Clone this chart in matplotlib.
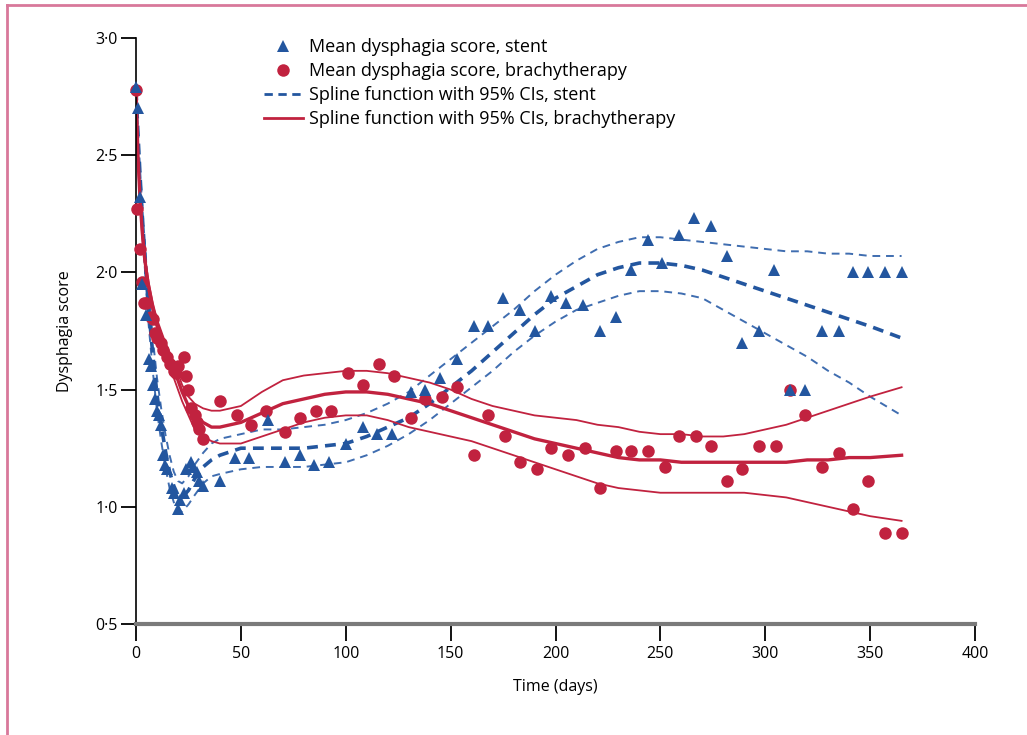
import matplotlib
matplotlib.use("Agg")
import matplotlib.pyplot as plt
from matplotlib.lines import Line2D
import matplotlib.ticker as mticker

plt.rcParams['font.family'] = ['Open Sans', 'DejaVu Sans']

# ---- data ----
stent_days = [0, 0.8, 2, 3, 5, 6, 7, 8, 9, 10, 11, 12, 13, 14, 15, 17, 18, 20, 21, 23, 24, 26, 27, 29, 30, 32,
              40, 47, 54, 63, 71, 78, 85, 92, 100, 108, 115, 122, 131, 138, 145, 153, 161, 168, 175, 183, 190,
              198, 205, 213, 221, 229, 236, 244, 251, 259, 266, 274, 282, 289, 297, 304, 312, 319, 327, 335,
              342, 349, 357, 365]
stent_score = [2.79, 2.70, 2.32, 1.95, 1.82, 1.63, 1.60, 1.52, 1.46, 1.41, 1.39, 1.35, 1.22, 1.18, 1.16, 1.08, 1.06,
               0.99, 1.03, 1.06, 1.16, 1.19, 1.17, 1.15, 1.11, 1.09,
               1.11, 1.21, 1.21, 1.37, 1.19, 1.22, 1.18, 1.19, 1.27, 1.34, 1.31, 1.31, 1.49, 1.50, 1.55, 1.63,
               1.77, 1.77, 1.89, 1.84, 1.75, 1.90, 1.87, 1.86, 1.75, 1.81, 2.01, 2.14, 2.04, 2.16, 2.23, 2.20,
               2.07, 1.70, 1.75, 2.01, 1.50, 1.50, 1.75, 1.75, 2.00, 2.00, 2.00, 2.00]

brachy_days = [0, 0.5, 2, 3, 4, 5, 7, 8, 9, 10, 12, 13, 15, 16, 18, 19, 20, 23, 24, 25, 26, 28, 29, 30, 32,
               40, 48, 55, 62, 71, 78, 86, 93, 101, 108, 116, 123, 131, 138, 146, 153, 161, 168, 176, 183,
               191, 198, 206, 214, 221, 229, 236, 244, 252, 259, 267, 274, 282, 289, 297, 305, 312, 319, 327,
               335, 342, 349, 357, 365]
brachy_score = [2.78, 2.27, 2.10, 1.96, 1.87, 1.87, 1.81, 1.80, 1.74, 1.72, 1.70, 1.67, 1.64, 1.61, 1.58, 1.57,
                1.60, 1.64, 1.56, 1.50, 1.42, 1.39, 1.36, 1.33, 1.29,
                1.45, 1.39, 1.35, 1.41, 1.32, 1.38, 1.41, 1.41, 1.57, 1.52, 1.61, 1.56, 1.38, 1.46, 1.47, 1.51,
                1.22, 1.39, 1.30, 1.19, 1.16, 1.25, 1.22, 1.25, 1.08, 1.24, 1.24, 1.24, 1.17, 1.30, 1.30, 1.26,
                1.11, 1.16, 1.26, 1.26, 1.50, 1.39, 1.17, 1.23, 0.99, 1.11, 0.89, 0.89]

spline_days = [0, 1, 2, 3, 4, 5, 6, 8, 10, 12, 14, 16, 18, 20, 22, 25, 28, 32, 36, 40, 50, 60, 70, 80, 90, 100,
               110, 120, 130, 140, 150, 160, 170, 180, 190, 200, 210, 220, 230, 240, 250, 260, 270, 280, 290,
               300, 310, 320, 330, 340, 350, 365]

stent_fit = [2.78, 2.58, 2.40, 2.24, 2.10, 1.97, 1.85, 1.65, 1.48, 1.35, 1.24, 1.15, 1.09, 1.05, 1.04, 1.07, 1.12,
             1.17, 1.20, 1.22, 1.25, 1.25, 1.25, 1.25, 1.26, 1.27, 1.30, 1.34, 1.38, 1.44, 1.51, 1.58, 1.66, 1.74,
             1.82, 1.89, 1.94, 1.99, 2.02, 2.04, 2.04, 2.03, 2.01, 1.98, 1.95, 1.92, 1.89, 1.86, 1.83, 1.80, 1.77,
             1.72]
stent_upper = [2.78, 2.60, 2.43, 2.28, 2.15, 2.03, 1.92, 1.72, 1.55, 1.42, 1.31, 1.22, 1.15, 1.11, 1.10, 1.13, 1.18,
               1.23, 1.27, 1.29, 1.31, 1.33, 1.33, 1.34, 1.35, 1.37, 1.40, 1.44, 1.49, 1.56, 1.63, 1.70, 1.77, 1.84,
               1.92, 1.99, 2.05, 2.10, 2.13, 2.15, 2.15, 2.14, 2.13, 2.12, 2.11, 2.10, 2.09, 2.09, 2.08, 2.08, 2.07,
               2.07]
stent_lower = [2.78, 2.56, 2.37, 2.20, 2.05, 1.91, 1.78, 1.58, 1.41, 1.28, 1.17, 1.08, 1.02, 0.98, 0.98, 1.01, 1.05,
               1.10, 1.13, 1.14, 1.16, 1.17, 1.17, 1.17, 1.18, 1.19, 1.22, 1.26, 1.31, 1.37, 1.44, 1.51, 1.58, 1.66,
               1.73, 1.79, 1.84, 1.87, 1.90, 1.92, 1.92, 1.91, 1.89, 1.84, 1.79, 1.74, 1.69, 1.64, 1.58, 1.53, 1.47,
               1.39]

brachy_fit = [2.78, 2.48, 2.30, 2.17, 2.07, 2.00, 1.94, 1.85, 1.78, 1.73, 1.68, 1.63, 1.58, 1.54, 1.49, 1.43, 1.39,
              1.36, 1.34, 1.34, 1.36, 1.40, 1.44, 1.46, 1.48, 1.49, 1.49, 1.48, 1.46, 1.44, 1.41, 1.38, 1.35, 1.32,
              1.29, 1.27, 1.25, 1.23, 1.21, 1.20, 1.20, 1.19, 1.19, 1.19, 1.19, 1.19, 1.19, 1.20, 1.20, 1.21, 1.21,
              1.22]
brachy_upper = [2.78, 2.50, 2.32, 2.19, 2.09, 2.02, 1.96, 1.87, 1.80, 1.75, 1.70, 1.66, 1.61, 1.57, 1.52, 1.47, 1.44,
                1.42, 1.41, 1.41, 1.43, 1.49, 1.54, 1.56, 1.57, 1.58, 1.58, 1.57, 1.55, 1.53, 1.50, 1.46, 1.43, 1.41,
                1.39, 1.38, 1.37, 1.35, 1.34, 1.32, 1.31, 1.31, 1.30, 1.30, 1.31, 1.33, 1.35, 1.38, 1.41, 1.44, 1.47,
                1.51]
brachy_lower = [2.78, 2.46, 2.28, 2.15, 2.05, 1.98, 1.92, 1.83, 1.76, 1.71, 1.66, 1.60, 1.55, 1.50, 1.45, 1.39, 1.33,
                1.30, 1.28, 1.27, 1.27, 1.30, 1.33, 1.36, 1.38, 1.39, 1.39, 1.37, 1.34, 1.32, 1.30, 1.28, 1.25, 1.22,
                1.19, 1.16, 1.13, 1.10, 1.08, 1.07, 1.06, 1.06, 1.06, 1.06, 1.06, 1.05, 1.04, 1.02, 1.00, 0.98, 0.96,
                0.94]

x_ticks = [0, 50, 100, 150, 200, 250, 300, 350, 400]
y_ticks = [0.5, 1.0, 1.5, 2.0, 2.5, 3.0]
y_tick_labels = ['0·5', '1·0', '1·5', '2·0', '2·5', '3·0']

legend_labels = ['Mean dysphagia score, stent',
                 'Mean dysphagia score, brachytherapy',
                 'Spline function with 95% CIs, stent',
                 'Spline function with 95% CIs, brachytherapy']

BLUE = '#23569f'
BLUE_CI = '#3f6db0'
RED = '#c1223f'

# ---- figure ----
fig = plt.figure(figsize=(10.27, 7.35), dpi=100)
ax = fig.add_axes([136 / 1027, 111 / 735, 839 / 1027, 586 / 735])

# pink frame
fig.add_artist(Line2D([7 / 1027, 7 / 1027], [0, 1 - 5 / 735], transform=fig.transFigure,
                      color='#d8789a', lw=2))
fig.add_artist(Line2D([7 / 1027, 1], [1 - 5 / 735, 1 - 5 / 735], transform=fig.transFigure,
                      color='#d8789a', lw=2))

# splines
ax.plot(spline_days, stent_upper, color=BLUE_CI, lw=1.4, ls=(0, (4, 3)), zorder=2)
ax.plot(spline_days, stent_lower, color=BLUE_CI, lw=1.4, ls=(0, (4, 3)), zorder=2)
ax.plot(spline_days, stent_fit, color=BLUE, lw=2.6, ls=(0, (3, 2)), zorder=2)
ax.plot(spline_days, brachy_upper, color=RED, lw=1.3, zorder=2)
ax.plot(spline_days, brachy_lower, color=RED, lw=1.3, zorder=2)
ax.plot(spline_days, brachy_fit, color=RED, lw=2.4, zorder=2)

# points
ax.plot(brachy_days, brachy_score, 'o', color=RED, ms=9, mew=0, zorder=3, clip_on=False)
ax.plot(stent_days, stent_score, '^', color=BLUE, ms=9, mew=0, zorder=4, clip_on=False)

ax.set_xlim(0, 400)
ax.set_ylim(0.5, 3.0)
ax.set_xticks(x_ticks)
ax.set_yticks(y_ticks)
ax.yaxis.set_major_formatter(mticker.FixedFormatter(y_tick_labels))
ax.set_xticklabels([str(t) for t in x_ticks])

for s in ['top', 'right']:
    ax.spines[s].set_visible(False)
ax.spines['left'].set_color('black')
ax.spines['left'].set_linewidth(1.2)
ax.spines['bottom'].set_color('#7a7a7a')
ax.spines['bottom'].set_linewidth(3)
ax.tick_params(axis='both', direction='out', length=11, width=1.3, color='black',
               labelsize=11.5, pad=2)
ax.tick_params(axis='x', length=12, pad=4)

ax.set_xlabel('Time (days)', fontsize=11.5, labelpad=12)
ax.set_ylabel('Dysphagia score', fontsize=11.5, labelpad=16)

handles = [
    Line2D([], [], marker='^', ls='none', color=BLUE, ms=9, mew=0),
    Line2D([], [], marker='o', ls='none', color=RED, ms=9, mew=0),
    Line2D([], [], color=BLUE, lw=2, ls=(0, (3, 2))),
    Line2D([], [], color=RED, lw=2),
]
leg = ax.legend(handles, legend_labels, loc='upper left', bbox_to_anchor=(0.152, 1.0),
                frameon=False, fontsize=13, handlelength=2.2, handletextpad=0.3,
                labelspacing=0.34, borderaxespad=0, borderpad=0)

fig.savefig('out.png', dpi=100)
